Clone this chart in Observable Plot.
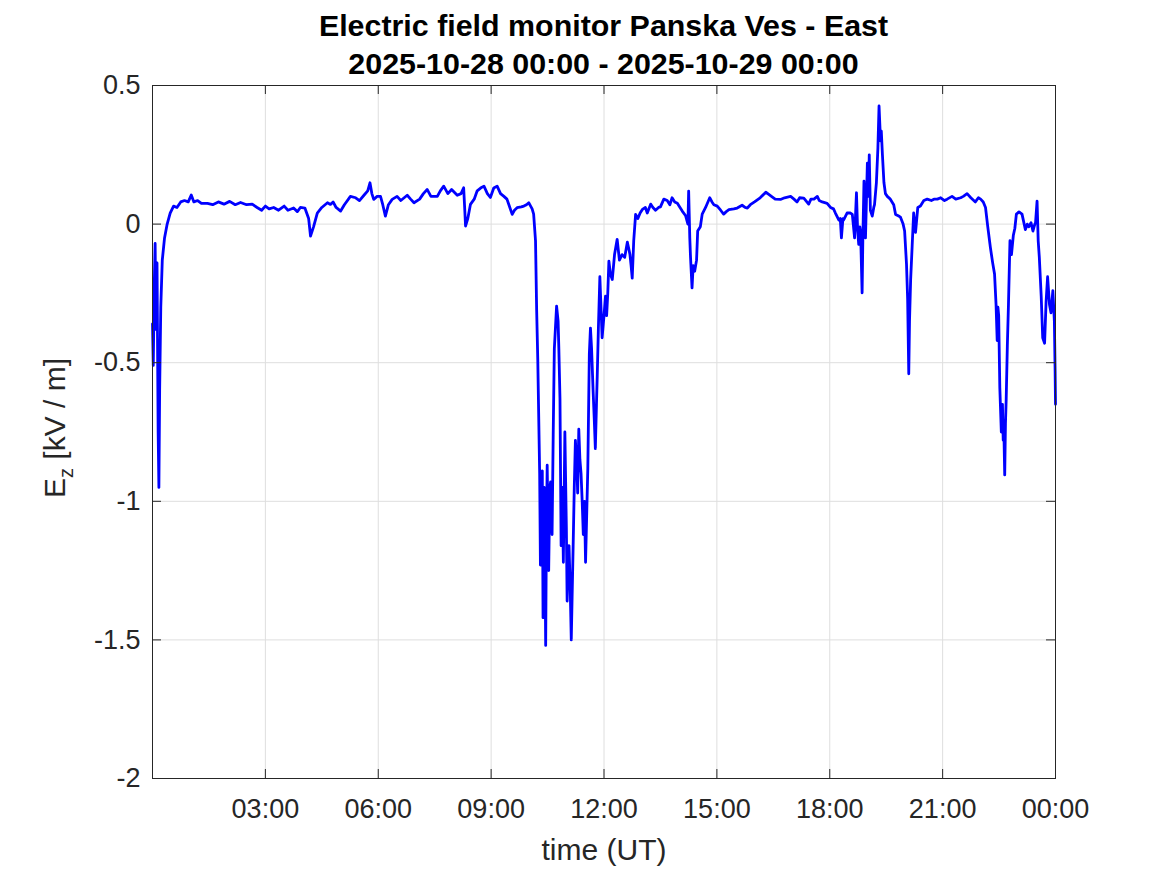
<!DOCTYPE html>
<html><head><meta charset="utf-8">
<script src="https://cdn.jsdelivr.net/npm/d3@7"></script>
<script src="https://cdn.jsdelivr.net/npm/@observablehq/plot@0.6"></script>
<style>
body{margin:0;background:#fff;font-family:"Liberation Sans",Arial,sans-serif;}
#wrap{width:1167px;}
#title{position:relative;height:70px;}
#title div{position:absolute;left:152px;width:903px;text-align:center;font-weight:bold;font-size:30.4px;color:#000;white-space:nowrap;line-height:30px;}
</style></head><body>
<div id="wrap">
<div id="title"><div id="t1" style="top:10px"></div><div id="t2" style="top:48px"></div></div>
<div id="chart"></div>
</div>
<script>
const titleLines = ["Electric field monitor Panska Ves - East", "2025-10-28 00:00 - 2025-10-29 00:00"];
const xLabel = "time (UT)";
const yLabelMain = "E", yLabelSub = "z", yLabelRest = " [kV / m]";
const xTickHours = [3, 6, 9, 12, 15, 18, 21, 24];
const xTickLabels = ["03:00","06:00","09:00","12:00","15:00","18:00","21:00","00:00"];
const yTicks = [0.5, 0, -0.5, -1, -1.5, -2];
const yTickLabels = ["0.5","0","-0.5","-1","-1.5","-2"];

const hours = [0.00,0.02,0.05,0.07,0.09,0.12,0.15,0.17,0.19,0.22,0.26,0.32,0.39,0.47,0.56,0.65,0.75,0.85,0.95,1.03,1.1,1.2,1.3,1.46,1.6,1.75,1.9,2.05,2.2,2.34,2.5,2.65,2.78,2.9,3.0,3.1,3.22,3.35,3.5,3.6,3.75,3.85,3.93,4.05,4.15,4.2,4.28,4.38,4.5,4.65,4.73,4.8,4.88,5.0,5.1,5.26,5.4,5.5,5.62,5.72,5.78,5.83,5.88,5.97,6.06,6.12,6.19,6.27,6.37,6.5,6.6,6.77,6.86,6.95,7.1,7.2,7.3,7.4,7.57,7.65,7.74,7.85,7.95,8.1,8.2,8.27,8.3,8.32,8.38,8.45,8.55,8.63,8.72,8.81,8.9,8.98,9.07,9.16,9.25,9.34,9.42,9.47,9.56,9.62,9.69,9.8,9.87,9.94,10.0,10.05,10.09,10.13,10.18,10.21,10.24,10.29,10.31,10.34,10.36,10.38,10.41,10.42,10.45,10.47,10.49,10.53,10.56,10.58,10.62,10.65,10.68,10.74,10.78,10.8,10.83,10.86,10.89,10.92,10.96,11.0,11.02,11.05,11.07,11.1,11.13,11.18,11.21,11.24,11.28,11.3,11.33,11.36,11.39,11.42,11.45,11.48,11.51,11.54,11.57,11.61,11.64,11.67,11.71,11.74,11.77,11.8,11.82,11.85,11.89,11.92,11.95,12.0,12.04,12.07,12.1,12.13,12.17,12.22,12.28,12.35,12.41,12.48,12.55,12.62,12.66,12.69,12.72,12.75,12.79,12.84,12.9,12.96,13.02,13.1,13.15,13.24,13.3,13.37,13.45,13.5,13.59,13.68,13.75,13.81,13.88,13.95,14.02,14.08,14.17,14.23,14.25,14.28,14.3,14.34,14.37,14.41,14.46,14.49,14.56,14.61,14.7,14.81,14.87,14.92,15.01,15.1,15.18,15.25,15.32,15.45,15.54,15.67,15.75,15.81,15.89,16.0,16.15,16.3,16.45,16.55,16.69,16.8,16.96,17.05,17.13,17.2,17.31,17.44,17.5,17.58,17.67,17.72,17.8,17.93,18.02,18.1,18.15,18.24,18.28,18.31,18.35,18.37,18.46,18.55,18.6,18.66,18.71,18.74,18.77,18.8,18.82,18.86,18.88,18.91,18.95,19.0,19.03,19.05,19.08,19.13,19.17,19.19,19.24,19.28,19.31,19.35,19.37,19.4,19.44,19.48,19.53,19.61,19.7,19.75,19.82,19.88,19.95,19.99,20.04,20.07,20.1,20.12,20.15,20.19,20.23,20.28,20.34,20.41,20.5,20.59,20.7,20.77,20.86,20.95,21.05,21.12,21.25,21.35,21.48,21.55,21.65,21.75,21.87,21.95,22.01,22.08,22.14,22.2,22.27,22.33,22.38,22.42,22.45,22.47,22.49,22.52,22.56,22.59,22.61,22.63,22.65,22.67,22.69,22.72,22.75,22.79,22.83,22.88,22.92,22.96,23.03,23.11,23.2,23.25,23.29,23.35,23.4,23.45,23.47,23.51,23.54,23.57,23.62,23.66,23.71,23.75,23.79,23.84,23.88,23.93,23.97,23.99,24.0];
const ez = [-0.36,-0.51,-0.2,-0.07,-0.38,-0.14,-0.75,-0.95,-0.6,-0.3,-0.13,-0.05,0.0,0.04,0.065,0.06,0.08,0.085,0.08,0.105,0.08,0.085,0.075,0.075,0.07,0.08,0.072,0.082,0.07,0.078,0.07,0.072,0.06,0.05,0.065,0.055,0.06,0.05,0.065,0.05,0.058,0.045,0.06,0.058,0.02,-0.043,-0.01,0.04,0.06,0.077,0.071,0.08,0.06,0.047,0.07,0.10,0.095,0.085,0.104,0.12,0.149,0.11,0.089,0.1,0.10,0.07,0.029,0.07,0.089,0.1,0.085,0.104,0.09,0.077,0.09,0.11,0.125,0.1,0.10,0.12,0.137,0.11,0.125,0.104,0.11,0.131,0.05,-0.007,0.02,0.071,0.09,0.12,0.13,0.137,0.11,0.096,0.13,0.137,0.11,0.10,0.09,0.071,0.035,0.05,0.059,0.062,0.065,0.07,0.077,0.065,0.055,0.036,-0.06,-0.31,-0.49,-0.90,-1.23,-0.92,-0.89,-1.42,-0.95,-1.0,-1.52,-1.1,-0.87,-1.25,-0.95,-0.93,-1.12,-0.76,-0.45,-0.296,-0.35,-0.45,-0.63,-1.16,-0.95,-1.22,-0.75,-1.1,-1.36,-1.2,-1.16,-1.3,-1.50,-1.16,-0.95,-0.78,-0.88,-0.97,-0.74,-0.85,-0.9,-1.0,-1.12,-1.0,-1.22,-1.05,-0.88,-0.47,-0.375,-0.45,-0.6,-0.7,-0.81,-0.65,-0.55,-0.38,-0.19,-0.3,-0.41,-0.33,-0.26,-0.33,-0.25,-0.134,-0.18,-0.2,-0.11,-0.055,-0.13,-0.11,-0.12,-0.065,-0.09,-0.11,-0.15,-0.195,-0.06,0.035,0.02,0.04,0.053,0.06,0.04,0.072,0.06,0.05,0.06,0.062,0.09,0.085,0.07,0.095,0.08,0.075,0.06,0.047,0.03,0.0,0.119,-0.05,-0.12,-0.23,-0.15,-0.17,-0.13,-0.025,-0.01,0.036,0.06,0.095,0.08,0.07,0.065,0.05,0.036,0.045,0.052,0.055,0.058,0.068,0.06,0.058,0.07,0.08,0.095,0.115,0.1,0.09,0.089,0.095,0.1,0.09,0.08,0.095,0.094,0.072,0.09,0.09,0.1,0.085,0.08,0.075,0.06,0.055,0.04,0.015,0.02,-0.05,0.02,0.015,0.04,0.04,0.035,-0.05,0.113,-0.02,-0.073,-0.01,-0.03,-0.248,-0.05,0.155,-0.05,0.22,0.1,0.25,0.05,0.029,0.06,0.07,0.15,0.275,0.426,0.3,0.336,0.25,0.15,0.11,0.10,0.09,0.07,0.035,0.03,0.025,0.0,-0.025,-0.145,-0.27,-0.54,-0.35,-0.2,-0.08,0.04,-0.03,0.06,0.065,0.085,0.09,0.085,0.09,0.09,0.095,0.085,0.09,0.1,0.09,0.095,0.1,0.11,0.095,0.08,0.095,0.09,0.08,0.06,-0.01,-0.085,-0.14,-0.18,-0.29,-0.42,-0.3,-0.33,-0.59,-0.75,-0.65,-0.78,-0.76,-0.905,-0.72,-0.63,-0.44,-0.29,-0.06,-0.11,-0.04,-0.015,0.036,0.044,0.036,-0.02,0.0,-0.01,0.005,-0.025,0.0,0.005,0.083,-0.06,-0.12,-0.26,-0.41,-0.43,-0.28,-0.19,-0.29,-0.32,-0.24,-0.35,-0.53,-0.65];

document.getElementById("t1").textContent = titleLines[0];
document.getElementById("t2").textContent = titleLines[1];

const t0 = Date.UTC(2025, 9, 28);
const toDate = h => new Date(t0 + h * 3600e3);
const data = hours.map((h, i) => ({t: toDate(h), v: ez[i]}));
const xTicks = xTickHours.map(toDate);
const xFmt = new Map(xTicks.map((d, i) => [+d, xTickLabels[i]]));
const yFmt = new Map(yTicks.map((d, i) => [d, yTickLabels[i]]));

const W = 1167, H = 805, mT = 15, mB = 97, mL = 152, mR = 112, tick = 9;
const plotH = H - mT - mB, plotW = W - mL - mR;

const chart = Plot.plot({
  width: W, height: H,
  marginTop: mT, marginBottom: mB, marginLeft: mL, marginRight: mR,
  style: {fontFamily: "'Liberation Sans', Arial, sans-serif", fontSize: "27px", color: "#262626", background: "#fff", overflow: "visible"},
  x: {type: "utc", domain: [toDate(0), toDate(24)]},
  y: {domain: [-2, 0.5]},
  marks: [
    Plot.gridX(xTicks.slice(0, -1), {stroke: "#dedede", strokeOpacity: 1}),
    Plot.gridY(yTicks.slice(1, -1), {stroke: "#dedede", strokeOpacity: 1}),
    Plot.line(data, {x: "t", y: "v", stroke: "#0000ff", strokeWidth: 2.8}),
    Plot.frame({stroke: "#262626"}),
    Plot.tickX(xTicks, {x: d => d, insetTop: plotH - tick, stroke: "#262626"}),
    Plot.tickX(xTicks, {x: d => d, insetBottom: plotH - tick, stroke: "#262626"}),
    Plot.tickY(yTicks, {y: d => d, insetRight: plotW - tick, stroke: "#262626"}),
    Plot.tickY(yTicks, {y: d => d, insetLeft: plotW - tick, stroke: "#262626"}),
    Plot.axisX(xTicks, {anchor: "bottom", tickSize: 0, tickPadding: 20, tickFormat: d => xFmt.get(+d), label: null, fill: "#262626"}),
    Plot.axisY(yTicks, {anchor: "left", tickSize: 0, tickPadding: 12, tickFormat: d => yFmt.get(d), label: null, fill: "#262626"}),
    Plot.text([xLabel], {text: d => d, frameAnchor: "bottom", dy: 81, fontSize: 30, fill: "#262626"})
  ]
});
document.getElementById("chart").appendChild(chart);

const svg = d3.select(chart);
const yl = svg.append("text")
  .attr("transform", "translate(65,358) rotate(-90)")
  .attr("text-anchor", "middle")
  .attr("fill", "#262626")
  .attr("font-size", 30)
  .attr("font-family", "'Liberation Sans', Arial, sans-serif");
yl.append("tspan").text(yLabelMain);
yl.append("tspan").attr("font-size", 20).attr("dy", 8).text(yLabelSub);
yl.append("tspan").attr("dy", -8).text(yLabelRest);
</script>
</body></html>
